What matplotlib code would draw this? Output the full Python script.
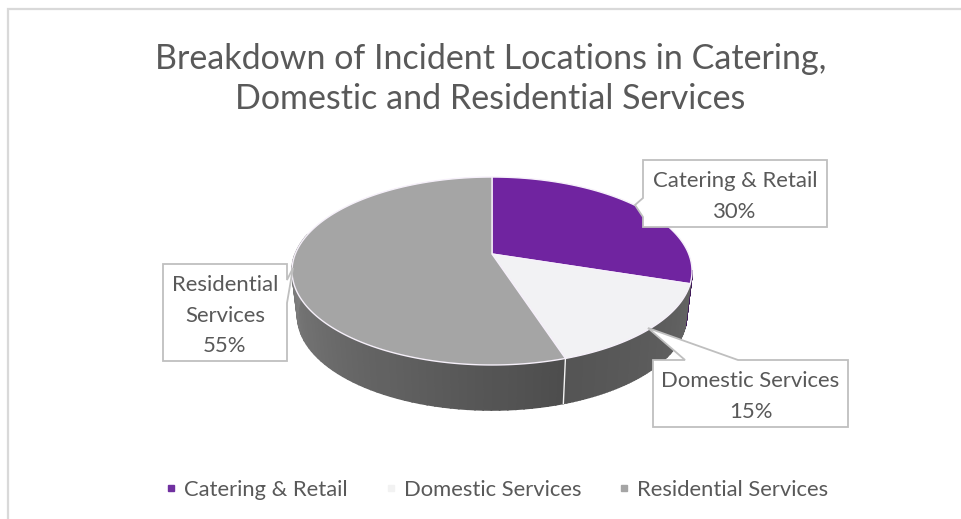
import numpy as np
import matplotlib
matplotlib.use("Agg")
import matplotlib.pyplot as plt
from matplotlib.lines import Line2D
from matplotlib.patches import Polygon

categories = ["Catering & Retail", "Domestic Services", "Residential Services"]
values = [30, 15, 55]
top_colors = ["#7024a0", "#f2f2f4", "#a5a5a5"]
legend_colors = ["#7030a0", "#f2f2f2", "#a5a5a5"]
side_dark = [(0.25, 0.10, 0.35), (0.33, 0.33, 0.33), (0.30, 0.30, 0.30)]
side_light = [(0.30, 0.13, 0.42), (0.39, 0.39, 0.39), (0.52, 0.52, 0.52)]
label_lines = ["Catering & Retail\n30%", "Domestic Services\n15%", "Residential\nServices\n55%"]
title = "Breakdown of Incident Locations in Catering,\nDomestic and Residential Services"
FONT = "Lato"
TEXT = "#595959"

W, H = 962, 519
fig = plt.figure(figsize=(W / 100, H / 100), dpi=100)
ax = fig.add_axes([0, 0, 1, 1])
ax.set_xlim(0, W)
ax.set_ylim(H, 0)
ax.axis("off")

# Perspective projection of the unit disc (tilted pie)
CX, CY, A, B, K = 492, 254, 196.7, 90.9, 0.181
DEPTH, INSET = 45, 0.972


def top_pt(theta):
    u, v = np.sin(theta), np.cos(theta)
    d = 1 + K * v
    return CX + A * u / d, CY - B * v / d


def low_pt(theta):
    x, y = top_pt(theta)
    return CX + INSET * (x - CX), y + DEPTH


edges = np.cumsum([0] + values) / sum(values) * 2 * np.pi
SIDE_MIN, SIDE_MAX = np.radians(100), np.radians(283)

# Side wall
for i in range(len(values)):
    a0, a1 = max(edges[i], SIDE_MIN), min(edges[i + 1], SIDE_MAX)
    if a1 <= a0:
        continue
    ts = np.linspace(a0, a1, 61)
    for j in range(60):
        t = np.array([ts[j], ts[j + 1]])
        f = (j + 0.5) / 60
        if i != 2:
            f = 1 - f
        col = tuple(d + (l - d) * f for d, l in zip(side_dark[i], side_light[i]))
        xt, yt = top_pt(t)
        xl, yl = low_pt(t)
        pts = np.column_stack([np.r_[xt, xl[::-1]], np.r_[yt, yl[::-1]]])
        ax.add_patch(Polygon(pts, closed=True, fc=col, ec=col, lw=1.2, zorder=2))

# White seam on the side wall
x0, y0 = top_pt(edges[2])
x1, y1 = low_pt(edges[2])
ax.plot([x0, x1], [y0, y1], color="#f4f4f4", lw=1.0, zorder=3)

# Top face
for i in range(len(values)):
    t = np.linspace(edges[i], edges[i + 1], 200)
    x, y = top_pt(t)
    pts = np.column_stack([np.r_[CX, x], np.r_[CY, y]])
    ax.add_patch(Polygon(pts, closed=True, fc=top_colors[i], ec="#f6f0fa", lw=1.0, zorder=4))

# Callouts: box (left, top, right, bottom) and pointer
boxes = [(643, 160, 827, 227), (653, 360, 848, 427), (163, 264, 287, 361)]
outlines = [
    [(643, 160), (827, 160), (827, 227), (643, 227), (643, 217), (635, 205), (643, 198)],
    [(653, 360), (685, 360), (648, 328), (738, 360), (848, 360), (848, 427), (653, 427)],
    [(163, 264), (287, 264), (287, 280), (293, 268), (287, 303), (287, 361), (163, 361)],
]
for i, (box, o) in enumerate(zip(boxes, outlines)):
    ax.add_patch(Polygon(o, closed=True, fc="white", ec="#bfbfbf", lw=1.3, zorder=5))
    ax.text((box[0] + box[2]) / 2, (box[1] + box[3]) / 2 + 3, label_lines[i], ha="center",
            va="center", family=FONT, fontsize=15.9, color=TEXT, linespacing=1.67, zorder=6)

# Title
ax.text(490.5, 79, title, ha="center", va="center", family=FONT, fontsize=24.5,
        color=TEXT, linespacing=1.31, zorder=6)

# Chart frame, cut by the picture's right and bottom
ax.plot([8, 8, W], [H, 9, 9], color="#d9d9d9", lw=1.6, zorder=1, solid_joinstyle="miter")

# Legend
handles = [Line2D([], [], ls="none", marker="s", ms=5, mfc=c, mec=c) for c in legend_colors]
ax.legend(handles, categories, ncol=3, loc="center", bbox_to_anchor=(496 / W, 1 - 490 / H),
          frameon=False, prop={"family": FONT, "size": 15.8}, labelcolor=TEXT,
          handlelength=0.7, handletextpad=0.25, columnspacing=1.6, borderpad=0)

fig.savefig("out.png", dpi=100, facecolor="white")
